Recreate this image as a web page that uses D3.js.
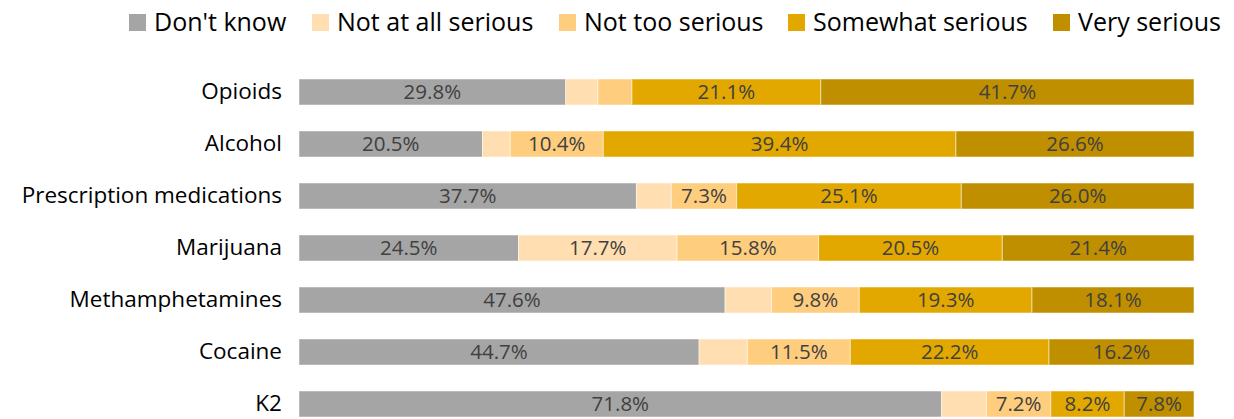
<!DOCTYPE html>
<html>
<head>
<meta charset="utf-8">
<script src="https://cdn.jsdelivr.net/npm/d3@7"></script>
<style>
  body { margin: 0; background: #fff; }
  text { font-family: "Open Sans", sans-serif; }
</style>
</head>
<body>
<div class="chart"></div>
<script>
// categories, top to bottom
var categories = ["Opioids", "Alcohol", "Prescription medications", "Marijuana",
  "Methamphetamines", "Cocaine", "K2"];

// series names (legend order)
var seriesNames = ["Don't know", "Not at all serious", "Not too serious", "Somewhat serious", "Very serious"];

// percentages per series, same order as categories
var dontKnow    = [29.8, 20.5, 37.7, 24.5, 47.6, 44.7, 71.8];
var notAtAll    = [3.6, 3.1, 3.9, 17.7, 5.2, 5.4, 5.0];
var notToo      = [3.8, 10.4, 7.3, 15.8, 9.8, 11.5, 7.2];
var somewhat    = [21.1, 39.4, 25.1, 20.5, 19.3, 22.2, 8.2];
var verySerious = [41.7, 26.6, 26.0, 21.4, 18.1, 16.2, 7.8];

var colors = ["#a5a5a5", "#ffdfb1", "#ffcd7e", "#e2a800", "#bf8f00"];

var svgWidth = 1234, svgHeight = 419;
var margin = { top: 79, right: 40, bottom: 0, left: 299 };
var width = 1194 - margin.left;

var svg = d3.select(".chart").append("svg")
  .attr("width", svgWidth)
  .attr("height", svgHeight);

// build rows for the stack
var rows = categories.map(function(c, i) {
  return { cat: c, s0: dontKnow[i], s1: notAtAll[i], s2: notToo[i], s3: somewhat[i], s4: verySerious[i] };
});
var keys = ["s0", "s1", "s2", "s3", "s4"];
var stacked = d3.stack().keys(keys).offset(d3.stackOffsetExpand)(rows);

var x = d3.scaleLinear().domain([0, 1]).range([0, width]);
var y = d3.scaleBand().domain(categories).range([0, 338]).paddingInner(0.5).paddingOuter(0);

var chartGroup = svg.append("g")
  .attr("transform", `translate(${margin.left}, ${margin.top})`);

// category labels
var yAxis = d3.axisLeft(y).tickSize(0).tickPadding(17);
chartGroup.append("g")
  .call(yAxis)
  .call(g => g.select(".domain").remove())
  .selectAll("text")
  .attr("font-size", "22.5px")
  .attr("font-family", "'Open Sans', sans-serif")
  .attr("fill", "#000");

var layers = chartGroup.selectAll(".layer")
  .data(stacked)
  .enter()
  .append("g")
  .attr("class", "layer")
  .attr("fill", (d, i) => colors[i]);

layers.selectAll("rect")
  .data(d => d)
  .enter()
  .append("rect")
  .attr("x", d => x(d[0]))
  .attr("y", d => y(d.data.cat))
  .attr("width", d => x(d[1]) - x(d[0]))
  .attr("height", y.bandwidth())
  .attr("stroke", "#ffffff")
  .attr("stroke-opacity", 0.5)
  .attr("stroke-width", 1);

// value labels (small segments left unlabeled)
layers.each(function(layer) {
  var key = layer.key;
  d3.select(this).selectAll("text")
    .data(layer.filter(d => d.data[key] >= 6))
    .enter()
    .append("text")
    .attr("x", d => (x(d[0]) + x(d[1])) / 2)
    .attr("y", d => y(d.data.cat) + y.bandwidth() / 2)
    .attr("dy", "0.36em")
    .attr("text-anchor", "middle")
    .attr("font-size", "20.5px")
    .attr("fill", "#404040")
    .text(d => d.data[key].toFixed(1) + "%");
});

// legend
var legendX = [129, 312, 559, 788, 1053];
var legend = svg.append("g");
seriesNames.forEach(function(name, i) {
  var g = legend.append("g").attr("transform", `translate(${legendX[i]}, 0)`);
  g.append("rect").attr("x", 0).attr("y", 14).attr("width", 17).attr("height", 17).attr("fill", colors[i]);
  g.append("text").attr("x", 25).attr("y", 31)
    .attr("font-size", "25px").attr("fill", "#000").text(name);
});
</script>
</body>
</html>
